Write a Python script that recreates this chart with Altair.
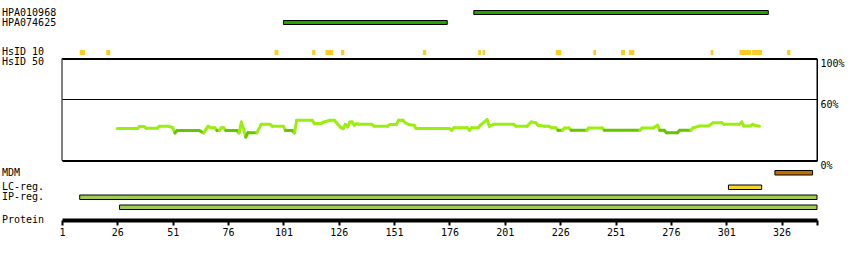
import altair as alt
import pandas as pd

# ---------------- data ----------------
protein_range = [1, 342]
tick_values = [1, 26, 51, 76, 101, 126, 151, 176, 201, 226, 251, 276, 301, 326, 342]
pct_ticks = [0, 60, 100]

antibody_names = ["HPA010968", "HPA074625"]
antibody_start = [187, 101]
antibody_end = [320, 175]

hsid10_start = [9, 21, 97, 114, 120, 127, 164, 189, 191, 224, 241, 253.5, 257, 294, 307, 312.7, 328.5]
hsid10_end = [11.4, 22.8, 98.7, 115.4, 123.5, 128.5, 165.5, 190.2, 192, 226.5, 242.2, 255.3, 259.5, 295.2, 312.3, 317.2, 330]

hsid50_residue = [26, 35, 36, 38, 39, 44, 45, 49, 51, 52, 53, 63, 65, 66, 67, 68, 70, 71, 72, 73,
                  74, 75, 80, 81, 82, 83, 84, 85, 89, 91, 95, 96, 101, 102, 105, 106, 107, 114, 115, 118,
                  119, 122, 124, 125, 127, 128, 129, 130, 131, 132, 133, 134, 135, 141, 142, 148, 149, 152, 153, 155,
                  156, 158, 160, 161, 176, 177, 178, 184, 185, 186, 189, 190, 193, 194, 196, 205, 206, 211, 213, 215,
                  216, 219, 221, 222, 224, 225, 227, 228, 230, 231, 238, 239, 245, 246, 262, 263, 268, 270, 271, 273,
                  274, 279, 280, 285, 286, 289, 293, 295, 299, 300, 307, 308, 309, 312, 313, 314, 316]
hsid50_pct = [31.3, 31.3, 33.3, 33.3, 31.6, 31.6, 33.6, 33.6, 32.2, 27.0, 29.3, 29.3, 27.0, 30.5, 33.6, 32.2, 32.2, 29.3, 29.3, 32.2,
              32.2, 29.3, 29.3, 27.0, 37.8, 31.0, 23.0, 27.3, 27.3, 35.5, 35.5, 33.6, 33.6, 29.3, 29.3, 27.0, 39.5, 39.5, 36.2, 36.2,
              37.5, 39.5, 39.5, 36.9, 32.2, 31.3, 35.5, 33.0, 37.8, 37.8, 34.6, 36.0, 35.5, 35.5, 33.6, 33.6, 35.2, 35.2, 39.5, 39.5,
              37.0, 35.0, 34.6, 31.3, 31.3, 29.6, 32.2, 32.2, 29.6, 32.2, 32.2, 34.6, 40.1, 33.6, 35.5, 35.5, 33.6, 33.6, 37.8, 37.0,
              34.6, 33.6, 33.6, 32.2, 32.2, 29.6, 29.6, 31.9, 31.9, 29.6, 29.6, 31.9, 31.9, 29.6, 29.6, 31.9, 31.9, 34.6, 29.6, 29.6,
              27.3, 27.3, 29.6, 29.6, 31.9, 33.9, 33.9, 36.9, 36.9, 35.5, 35.5, 37.8, 33.9, 33.9, 35.5, 34.5, 33.6]
dark_threshold = 30

mdm_start, mdm_end = [323], [340]
lc_start, lc_end = [302], [317]
ip_start = [9, 27]
ip_end = [342, 342]

# ---------------- styles / layout ----------------
FONT = "DejaVu Sans Mono"
W, H = 755, 220
Y_RANGE = [160.5, 58.5]
LIGHT, DARK = "#9bef0f", "#66c400"

x_scale = alt.Scale(domain=protein_range, nice=False, zero=False)
x_axis = alt.Axis(values=tick_values, title=None, grid=False,
                  labelExpr=f"datum.value == {protein_range[1]} ? '' : datum.label",
                  domainColor="black", domainWidth=4, tickColor="black", tickWidth=2,
                  tickSize=5, labelPadding=2, labelFont=FONT, labelFontSize=10,
                  labelColor="black", labelFlush=False)
y_scale = alt.Scale(domain=[0, 100], range=Y_RANGE, nice=False, zero=False)
y_axis = alt.Axis(values=pct_ticks, orient="right", title=None, grid=True, gridColor="black",
                  gridWidth=1, gridOpacity=1, domainColor="black", domainWidth=1, tickSize=0,
                  labelExpr="datum.value + '%'", labelBaseline="top", labelAlign="left",
                  labelPadding=3, labelFont=FONT, labelFontSize=10, labelColor="black",
                  labelFlush=False)


def X(field):
    return alt.X(field, type="quantitative", scale=x_scale, axis=x_axis)


def X2(field):
    return alt.X2(field)


def bars(starts, ends, y0, y1, color, stroke=True):
    df = pd.DataFrame({"start": starts, "end": ends})
    kw = dict(fill=color)
    if stroke:
        kw.update(stroke="black", strokeWidth=1)
    return alt.Chart(df).mark_rect(**kw).encode(
        x=X("start"), x2=X2("end"), y=alt.value(y0), y2=alt.value(y1))


def label(text, y):
    return alt.Chart(pd.DataFrame({"t": [text]})).mark_text(
        align="left", baseline="middle", font=FONT, fontSize=10, color="black"
    ).encode(x=alt.value(-60), y=alt.value(y), text="t:N")


# HsID 50 box
box_df = pd.DataFrame({"x0": [protein_range[0]], "x1": [protein_range[1]], "y0": [0], "y1": [100]})
box = alt.Chart(box_df).mark_rect(fillOpacity=0, stroke="black", strokeWidth=1).encode(
    x=X("x0"), x2=X2("x1"),
    y=alt.Y("y0", type="quantitative", scale=y_scale, axis=y_axis), y2=alt.Y2("y1"))

# identity line as coloured segments
seg = pd.DataFrame({"r": hsid50_residue, "p": hsid50_pct})
seg["r2"] = seg["r"].shift(-1)
seg["p2"] = seg["p"].shift(-1)
seg = seg.dropna()
seg["level"] = ["dark" if (a < dark_threshold and b < dark_threshold) else "light"
                for a, b in zip(seg["p"], seg["p2"])]
line = alt.Chart(seg).mark_rule(strokeWidth=3, strokeCap="round").encode(
    x=X("r"), x2=X2("r2"),
    y=alt.Y("p", type="quantitative", scale=y_scale, axis=y_axis), y2=alt.Y2("p2"),
    color=alt.Color("level:N", scale=alt.Scale(domain=["light", "dark"], range=[LIGHT, DARK]),
                    legend=None))

layers = [
    box,
    line,
    bars([antibody_start[0]], [antibody_end[0]], 10.5, 14.5, "#1fa500"),
    bars([antibody_start[1]], [antibody_end[1]], 20.5, 24.5, "#1fa500"),
    bars(hsid10_start, hsid10_end, 50, 55, "#fdcb25", stroke=False),
    bars(mdm_start, mdm_end, 170.5, 175, "#c07000"),
    bars(lc_start, lc_end, 185, 189.5, "#f2d62a"),
    bars([ip_start[0]], [ip_end[0]], 195, 199.5, "#a0cc55"),
    bars([ip_start[1]], [ip_end[1]], 205, 209.5, "#a0cc55"),
    label(antibody_names[0], 13),
    label(antibody_names[1], 23),
    label("HsID 10", 52),
    label("HsID 50", 62),
    label("MDM", 173),
    label("LC-reg.", 187),
    label("IP-reg.", 197),
    label("Protein", 220),
]

chart = alt.layer(*layers).properties(
    width=W, height=H,
    padding={"left": 62, "top": 0, "right": 33, "bottom": 40},
    autosize=alt.AutoSizeParams(type="none"),
    background="white",
).configure_view(strokeWidth=0)

chart.save("out.html", embed_options={"renderer": "svg", "actions": False})
